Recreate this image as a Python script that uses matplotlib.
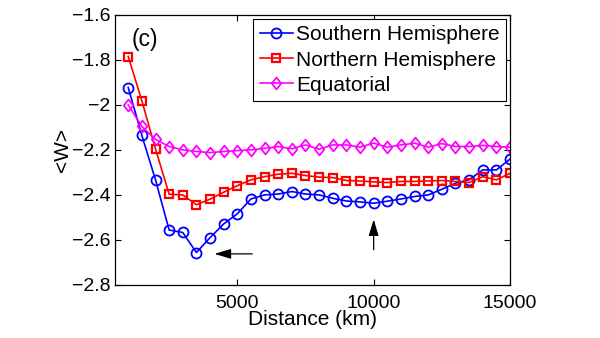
import numpy as np
import matplotlib
matplotlib.use("Agg")
import matplotlib.pyplot as plt
from matplotlib.path import Path

plt.rcParams['font.family'] = ['Liberation Sans', 'DejaVu Sans']

distance = np.arange(1000, 15001, 500)

southern = [-1.923, -2.136, -2.333, -2.556, -2.567, -2.656, -2.590, -2.529, -2.484,
            -2.418, -2.400, -2.396, -2.385, -2.396, -2.400, -2.415, -2.427, -2.431,
            -2.437, -2.428, -2.418, -2.407, -2.400, -2.375, -2.348, -2.333, -2.289,
            -2.289, -2.241]
northern = [-1.785, -1.982, -2.196, -2.397, -2.400, -2.444, -2.419, -2.388, -2.359,
            -2.333, -2.319, -2.308, -2.304, -2.314, -2.321, -2.323, -2.336, -2.338,
            -2.342, -2.345, -2.340, -2.340, -2.338, -2.336, -2.340, -2.345, -2.319,
            -2.333, -2.304]
equatorial = [-2.000, -2.096, -2.153, -2.185, -2.200, -2.207, -2.212, -2.207, -2.203,
              -2.200, -2.193, -2.185, -2.195, -2.178, -2.197, -2.178, -2.178, -2.188,
              -2.170, -2.188, -2.178, -2.170, -2.188, -2.172, -2.185, -2.185, -2.180,
              -2.185, -2.188]

series_labels = ['Southern Hemisphere', 'Northern Hemisphere', 'Equatorial']
xticks = [5000, 10000, 15000]
yticks = [-1.6, -1.8, -2.0, -2.2, -2.4, -2.6, -2.8]
ytick_labels = ['\u22121.6', '\u22121.8', '\u22122', '\u22122.2', '\u22122.4', '\u22122.6', '\u22122.8']

diamond = Path([(0, 1), (0.8, 0), (0, -1), (-0.8, 0), (0, 1)],
               [Path.MOVETO, Path.LINETO, Path.LINETO, Path.LINETO, Path.CLOSEPOLY])

fig = plt.figure(figsize=(6.0, 3.38), dpi=100)
ax = fig.add_axes([0.191, 0.157, 0.659, 0.799])

ax.plot(distance, southern, '-o', color='#0000ff', lw=1.2, ms=7.2, mfc='none', mew=1.3,
        label=series_labels[0])
ax.plot(distance, northern, '-s', color='#ff0000', lw=1.2, ms=6.3, mfc='none', mew=1.6,
        label=series_labels[1])
ax.plot(distance, equatorial, '-', marker=diamond, color='#ff00ff', lw=1.2, ms=8.5,
        mfc='none', mew=1.3, label=series_labels[2])

ax.set_xlim(500, 15000)
ax.set_ylim(-2.8, -1.6)
ax.set_xticks(xticks)
ax.set_xticklabels([str(v) for v in xticks])
ax.set_yticks(yticks)
ax.set_yticklabels(ytick_labels)
ax.tick_params(direction='in', top=True, right=True, length=4, width=0.8,
               labelsize=14)
ax.tick_params(axis='x', pad=7)
ax.tick_params(axis='y', pad=3)
for s in ax.spines.values():
    s.set_linewidth(0.9)

ax.set_xlabel('Distance (km)', fontsize=15, labelpad=-1)
ax.set_ylabel('<W>', fontsize=15, labelpad=0)

ax.text(1130, -1.738, '(c)', fontsize=16.5)

leg = ax.legend(loc='upper right', fontsize=15, frameon=True, fancybox=False,
                edgecolor='black', framealpha=1, borderpad=0.3, labelspacing=0.3,
                handlelength=1.6, handletextpad=0.15, borderaxespad=0.2)
leg.get_frame().set_linewidth(0.8)

arrow_kw = dict(arrowstyle='-|>,head_length=1.0,head_width=0.3', color='black', lw=0.9)
ax.annotate('', xy=(4060, -2.662), xytext=(5650, -2.662), arrowprops=arrow_kw)
ax.annotate('', xy=(10000, -2.496), xytext=(10000, -2.656), arrowprops=arrow_kw)

fig.savefig('out.png', dpi=100)
